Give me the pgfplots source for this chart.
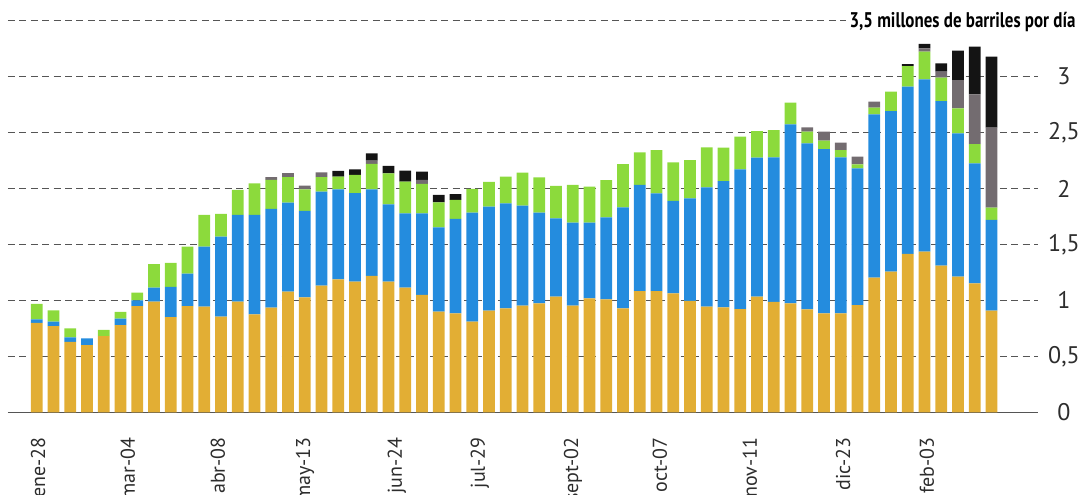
\documentclass[border=0pt]{standalone}
\usepackage{fontspec}
\setmainfont{PT Sans}
\newfontfamily\titlefont[FakeStretch=0.8]{PT Sans}
\usepackage{pgfplots}
\usepackage{pgfplotstable}
\pgfplotsset{compat=1.18}
\definecolor{cO}{RGB}{226,174,52}
\definecolor{cB}{RGB}{36,140,222}
\definecolor{cG}{RGB}{140,218,60}
\definecolor{cGr}{RGB}{115,108,112}
\definecolor{cK}{RGB}{20,20,20}
\definecolor{gridc}{RGB}{85,85,85}
\definecolor{lab}{RGB}{45,45,45}

\pgfplotstableread{
i o b g gr k
0 0.80 0.03 0.14 0 0
1 0.77 0.04 0.10 0 0
2 0.63 0.04 0.08 0 0
3 0.60 0.06 0 0 0
4 0.68 0 0.056 0 0
5 0.78 0.057 0.06 0 0
6 0.95 0.05 0.07 0 0
7 0.99 0.125 0.21 0 0
8 0.85 0.27 0.215 0 0
9 0.95 0.29 0.24 0 0
10 0.945 0.536 0.283 0 0
11 0.855 0.715 0.203 0 0
12 0.99 0.775 0.223 0 0
13 0.876 0.888 0.283 0 0
14 0.936 0.882 0.259 0.024 0
15 1.079 0.795 0.227 0.036 0
16 1.028 0.772 0.193 0.033 0
17 1.132 0.841 0.128 0.044 0
18 1.189 0.804 0.114 0 0.05
19 1.168 0.790 0.164 0 0.05
20 1.219 0.774 0.227 0.03 0.065
21 1.168 0.691 0.277 0 0.066
22 1.114 0.665 0.283 0 0.098
23 1.049 0.730 0.262 0.036 0.074
24 0.900 0.754 0.223 0 0.066
25 0.885 0.843 0.170 0 0.051
26 0.810 0.975 0.211 0 0
27 0.909 0.929 0.221 0 0
28 0.930 0.938 0.239 0 0
29 0.954 0.893 0.295 0 0
30 0.974 0.810 0.316 0 0
31 1.034 0.700 0.289 0 0
32 0.953 0.742 0.337 0 0
33 1.019 0.676 0.322 0 0
34 1.010 0.733 0.333 0 0
35 0.929 0.903 0.387 0 0
36 1.084 0.948 0.292 0 0
37 1.084 0.873 0.387 0 0
38 1.063 0.826 0.345 0 0
39 0.995 0.917 0.343 0 0
40 0.944 1.067 0.357 0 0
41 0.938 1.129 0.298 0 0
42 0.923 1.249 0.292 0 0
43 1.034 1.242 0.238 0 0
44 0.986 1.293 0.244 0 0
45 0.974 1.600 0.193 0 0
46 0.920 1.484 0.104 0.039 0
47 0.885 1.468 0.075 0.080 0
48 0.885 1.394 0.065 0.066 0
49 0.959 1.222 0.035 0.069 0
50 1.203 1.460 0.060 0.053 0
51 1.257 1.436 0.173 0 0
52 1.415 1.495 0.185 0 0.018
53 1.436 1.540 0.247 0.030 0.039
54 1.311 1.471 0.209 0.053 0.075
55 1.212 1.281 0.224 0.253 0.262
56 1.153 1.072 0.173 0.444 0.426
57 0.909 0.810 0.110 0.715 0.634
}\data

\begin{document}
\begin{tikzpicture}
\path[use as bounding box] (-4pt,-40.85pt) rectangle (536pt,206.15pt);
\clip (-4pt,-40.85pt) rectangle (536pt,206.15pt);
\begin{axis}[
  at={(0pt,0pt)}, anchor=south west,
  scale only axis, width=515pt, height=195.8pt,
  xmin=-1.713, xmax=59.78, ymin=0, ymax=3.5,
  ybar stacked, bar width=0.7,
  clip=false,
  axis x line*=bottom, axis y line*=right,
  y axis line style={draw=none},
  x axis line style={draw=gridc, line width=0.6pt, -},
  major tick length=0pt,
  ytick={0,0.5,1,1.5,2,2.5,3,3.5},
  yticklabels={0,{0,5},1,{1,5},2,{2,5},3,{}},
  yticklabel style={anchor=center, xshift=13pt, font=\fontsize{12}{12}\selectfont, text=lab},
  xtick={0.08,5.45,10.82,16.02,21.51,26.46,32.02,37.21,42.58,48.14,53.15},
  xticklabels={ene-28,mar-04,abr-08,may-13,jun-24,jul-29,sept-02,oct-07,nov-11,dic-23,feb-03},
  xticklabel style={yshift=-9pt, rotate=90, anchor=east, font=\fontsize{10}{10}\selectfont, text=lab},
  ymajorgrids,
  grid style={dash pattern=on 3.5pt off 2.2pt, draw=gridc, line width=0.5pt},
]
\addplot[fill=cO, draw=none] table[x=i,y=o]{\data};
\addplot[fill=cB, draw=none] table[x=i,y=b]{\data};
\addplot[fill=cG, draw=none] table[x=i,y=g]{\data};
\addplot[fill=cGr, draw=none] table[x=i,y=gr]{\data};
\addplot[fill=cK, draw=none] table[x=i,y=k]{\data};
\node[anchor=base east, fill=white, inner sep=2pt, yshift=-3.2pt, font=\titlefont\bfseries\fontsize{10.6}{10.6}\selectfont] at ([xshift=21pt]rel axis cs:1,1) {3,5 millones de barriles por día};
\end{axis}
\end{tikzpicture}
\end{document}
